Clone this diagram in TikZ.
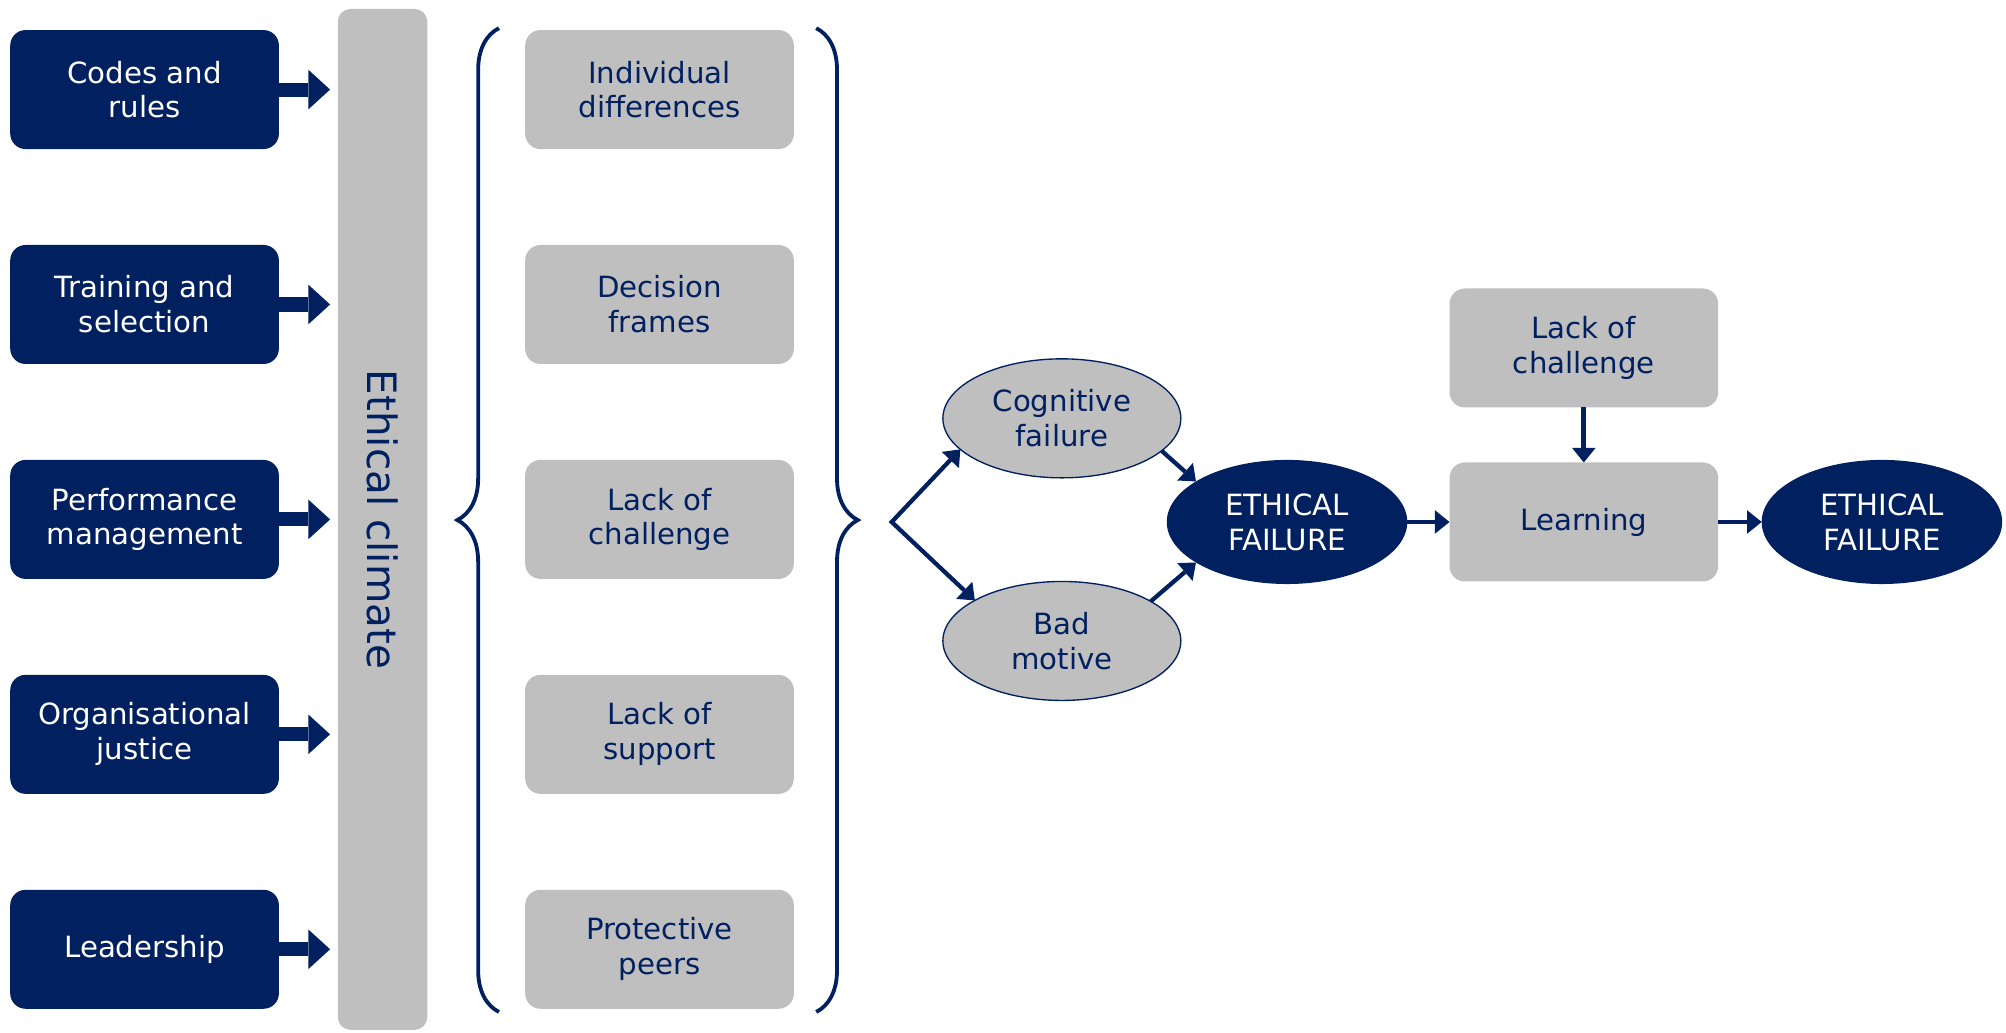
\documentclass[tikz,border=0pt]{standalone}
\usepackage{fontspec}
\setmainfont{DejaVu Sans}
\usetikzlibrary{arrows.meta,positioning,shapes.geometric,decorations.pathreplacing}
\definecolor{navy}{RGB}{0,32,96}
\definecolor{boxgray}{RGB}{191,191,191}
\tikzset{
  headtip/.tip={Triangle[length=6.5pt,width=10.5pt,line width=0pt]},
  blocktip/.tip={Triangle[length=0.34cm,width=0.62cm,line width=0pt]},
  every node/.style={outer sep=0mm,inner sep=0mm,align=center,
    font=\fontsize{13}{15.5}\selectfont}
}
\tikzset{source/.style={
    fill=navy,
    text=white,
    rounded corners=0.24cm,
    minimum width=#1,
    minimum height=1.86cm
  },
  source/.default=4.2cm}
\tikzset{factor/.style={
    fill=boxgray,
    text=navy,
    rounded corners=0.24cm,
    minimum width=#1,
    minimum height=1.86cm
  },
  factor/.default=4.2cm}
\tikzset{cause/.style={ellipse,fill=boxgray,draw=navy,line width=0.6pt,text=navy,
    minimum width=3.72cm,minimum height=1.86cm}}
\tikzset{failure/.style={ellipse,fill=navy,text=white,
    minimum width=3.76cm,minimum height=1.94cm}}
\tikzset{block/.style={draw=navy,line width=0.22cm,shorten >=0.12cm,-blocktip}}
\tikzset{link/.style={draw=navy,line width=1.9pt,-headtip}}
\tikzset{bracket/.style={draw=navy,line width=1.7pt,decorate,
    decoration={brace,amplitude=0.65cm}}}
\begin{document}
\begin{tikzpicture}
  \useasboundingbox (0,0) rectangle (31.36,-16.14);

  \node (Codes_rules) [source] at (2.26,-1.40) {Codes and\\rules};
  \node (Training_selection) [source,below=1.5cm of Codes_rules] {Training and\\selection};
  \node (Performance_management) [source,below=1.5cm of Training_selection] {Performance\\management};
  \node (Organisational_justice) [source,below=1.5cm of Performance_management] {Organisational\\justice};
  \node (Leadership) [source,below=1.5cm of Organisational_justice] {Leadership};

  \node (Ethical_climate) [fill=boxgray,text=navy,rounded corners=0.2cm,rotate=-90,
    minimum width=15.96cm,minimum height=1.4cm,font=\fontsize{18}{21}\selectfont]
    at (5.98,-8.12) {Ethical climate};

  \draw [block] (Codes_rules) -- (Codes_rules -| Ethical_climate.south);
  \draw [block] (Training_selection) -- (Training_selection -| Ethical_climate.south);
  \draw [block] (Performance_management) -- (Performance_management -| Ethical_climate.south);
  \draw [block] (Organisational_justice) -- (Organisational_justice -| Ethical_climate.south);
  \draw [block] (Leadership) -- (Leadership -| Ethical_climate.south);

  \node (Individual_differences) [factor] at (10.31,-1.40) {Individual\\differences};
  \node (Decision_frames) [factor,below=1.5cm of Individual_differences] {Decision\\frames};
  \node (Lack_challenge) [factor,below=1.5cm of Decision_frames] {Lack of\\challenge};
  \node (Lack_support) [factor,below=1.5cm of Lack_challenge] {Lack of\\support};
  \node (Protective_peers) [factor,below=1.5cm of Lack_support] {Protective\\peers};

  \coordinate (Brace_left_top) at (7.8,-0.44);
  \coordinate (Brace_left_bottom) at (7.8,-15.82);
  \draw [bracket] (Brace_left_bottom) -- (Brace_left_top);
  \coordinate (Brace_right_top) at (12.76,-0.44);
  \coordinate (Brace_right_bottom) at (12.76,-15.82);
  \draw [bracket] (Brace_right_top) -- (Brace_right_bottom);

  \node (Cognitive_failure) [cause] at (16.6,-6.54) {Cognitive\\failure};
  \node (Bad_motive) [cause] at (16.6,-10.02) {Bad\\motive};
  \node (Ethical_failure) [failure] at (20.12,-8.16) {ETHICAL\\FAILURE};
  \node (Learning) [factor,right=0.66cm of Ethical_failure] {Learning};
  \node (Lack_challenge_top) [factor,above=0.86cm of Learning] {Lack of\\challenge};
  \node (Ethical_failure_again) [failure,right=0.68cm of Learning] {ETHICAL\\FAILURE};

  \coordinate (Fork) at (13.94,-8.16);
  \draw [link,headtip-headtip] (Cognitive_failure.197) -- (Fork) -- (Bad_motive.155);
  \draw [link] (Cognitive_failure.-18) -- (Ethical_failure.156);
  \draw [link] (Bad_motive.24) -- (Ethical_failure.204);
  \draw [link,line width=2.2pt] (Ethical_failure) -- (Learning);
  \draw [link,line width=2.2pt] (Lack_challenge_top) -- (Learning);
  \draw [link,line width=2.2pt] (Learning) -- (Ethical_failure_again);
\end{tikzpicture}
\end{document}
